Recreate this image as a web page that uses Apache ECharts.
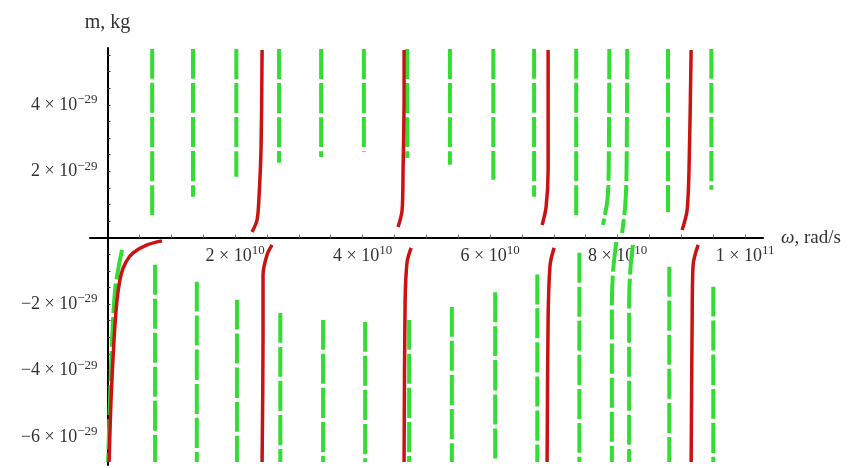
<!DOCTYPE html>
<html>
<head>
<meta charset="utf-8">
<script src="https://cdn.jsdelivr.net/npm/echarts@6/dist/echarts.min.js"></script>
<style>
  html, body { margin: 0; padding: 0; background: #ffffff; }
  #chart { width: 849px; height: 468px; }
</style>
</head>
<body>
<div id="chart"></div>
<script>
// Units: x in 1e10 rad/s, y in 1e-29 kg
const xTicks = [2, 4, 6, 8, 10];
const xTickMantissa = ['2', '4', '6', '8', '1'];
const xTickExponent = ['10', '10', '10', '10', '11'];
const xMinorTicks = [0.5, 1, 1.5, 2, 2.5, 3, 3.5, 4, 4.5, 5, 5.5, 6, 6.5, 7, 7.5, 8, 8.5, 9, 9.5, 10];
const yTicks = [-6, -4, -2, 2, 4];
const yTickMantissa = ['\u22126', '\u22124', '\u22122', '2', '4'];
const yTickExponent = ['\u221229', '\u221229', '\u221229', '\u221229', '\u221229'];
const yMinorTicks = [-6.5, -6, -5.5, -5, -4.5, -4, -3.5, -3, -2.5, -2, -1.5, -1, -0.5,
                     0.5, 1, 1.5, 2, 2.5, 3, 3.5, 4, 4.5, 5, 5.5];

// Green dashed branches above the axis
const greenUpper = [
  [[0.70, 5.68], [0.70, 0.62]],
  [[1.34, 5.68], [1.34, 1.23]],
  [[2.02, 5.68], [2.02, 1.83]],
  [[2.69, 5.68], [2.69, 2.25]],
  [[3.35, 5.68], [3.35, 2.43]],
  [[4.02, 5.68], [4.02, 2.58]],
  [[4.70, 5.68], [4.70, 2.40]],
  [[5.37, 5.68], [5.37, 2.19]],
  [[6.05, 5.68], [6.05, 1.74]],
  [[6.69, 5.68], [6.69, 1.23]],
  [[7.35, 5.68], [7.35, 0.68]],
  [[7.87, 5.68], [7.86, 2.0], [7.84, 1.14], [7.77, 0.38]],
  [[8.15, 5.68], [8.14, 2.0], [8.12, 0.98], [8.07, 0.14]],
  [[8.79, 5.68], [8.79, 0.77]],
  [[9.47, 5.68], [9.47, 1.44]]
];
// Green dashed branches below the axis
const greenLower = [
  [[0.227, -0.37], [0.180, -0.82], [0.118, -1.58], [0.071, -3.08], [0.039, -4.88], [0.008, -6.76]],
  [[0.745, -0.82], [0.745, -6.76]],
  [[1.40, -1.33], [1.40, -6.76]],
  [[2.03, -1.87], [2.03, -6.76]],
  [[2.71, -2.27], [2.71, -6.76]],
  [[3.38, -2.48], [3.38, -6.76]],
  [[4.04, -2.54], [4.04, -6.76]],
  [[4.73, -2.48], [4.73, -6.76]],
  [[5.40, -2.09], [5.40, -6.76]],
  [[6.08, -1.65], [6.08, -6.76]],
  [[6.74, -1.11], [6.74, -6.76]],
  [[7.40, -0.46], [7.40, -6.76]],
  [[7.98, -0.13], [7.93, -0.97], [7.91, -2.0], [7.91, -6.76]],
  [[8.24, -0.22], [8.20, -0.97], [8.18, -2.0], [8.18, -6.76]],
  [[8.81, -0.88], [8.81, -6.76]],
  [[9.50, -1.48], [9.50, -6.76]]
];
// Red solid branches above the axis
const redUpper = [
  [[2.267, 0.17], [2.345, 0.53], [2.376, 1.23], [2.408, 2.73], [2.424, 5.65]],
  [[4.557, 0.32], [4.620, 0.83], [4.635, 2.03], [4.651, 4.24], [4.651, 5.65]],
  [[6.816, 0.38], [6.878, 0.92], [6.910, 2.03], [6.910, 5.65]],
  [[9.012, 0.23], [9.090, 0.83], [9.122, 2.25], [9.153, 5.65]]
];
// Red solid branches below the axis
const redLower = [
  [[0.024, -6.76], [0.055, -4.88], [0.102, -3.08], [0.149, -1.88], [0.212, -1.12],
   [0.290, -0.73], [0.400, -0.46], [0.620, -0.22], [0.855, -0.10]],
  [[2.580, -0.22], [2.502, -0.52], [2.439, -1.12], [2.439, -2.93], [2.424, -6.76]],
  [[4.761, -0.31], [4.698, -0.74], [4.667, -1.93], [4.651, -6.76]],
  [[7.004, -0.31], [6.941, -0.82], [6.910, -2.42], [6.894, -6.76]],
  [[9.263, -0.22], [9.184, -0.82], [9.169, -2.42], [9.153, -6.76]]
];

const FONT = 'Liberation Serif';
const GREEN = '#33dd33';
const RED = '#cc1111';

const W = 849, H = 468;
const GRID = { left: 90, right: 86, top: 48, bottom: 3 };
const X_MIN = -0.275, X_MAX = 10.28;
const Y_MIN = -6.85, Y_MAX = 5.71;
const plotW = W - GRID.left - GRID.right;
const plotH = H - GRID.top - GRID.bottom;
// shift the axes so that they cross at the origin (labels stay with the axis lines)
const yAxisOffset = -((0 - X_MIN) / (X_MAX - X_MIN)) * plotW;
const xAxisOffset = -((0 - Y_MIN) / (Y_MAX - Y_MIN)) * plotH;

const series = [];
greenUpper.concat(greenLower).forEach(function (pts) {
  series.push({
    type: 'line', data: pts, symbol: 'none', smooth: 0.3,
    lineStyle: { color: GREEN, width: 4, type: [30, 4] }, z: 2
  });
});
redUpper.concat(redLower).forEach(function (pts) {
  series.push({
    type: 'line', data: pts, symbol: 'none', smooth: 0.3,
    lineStyle: { color: RED, width: 3.5 }, z: 3
  });
});

const labelRich = {
  b: { fontFamily: FONT, fontSize: 18, color: '#333' },
  s: { fontFamily: FONT, fontSize: 13, color: '#333', padding: [0, 0, 10, 0] }
};

const chart = echarts.init(document.getElementById('chart'), null, { renderer: 'canvas' });
chart.setOption({
  animation: false,
  backgroundColor: '#ffffff',
  grid: { left: GRID.left, right: GRID.right, top: GRID.top, bottom: GRID.bottom, containLabel: false },
  xAxis: {
    type: 'value', min: X_MIN, max: X_MAX, offset: xAxisOffset,
    splitLine: { show: false },
    axisLine: { onZero: false, lineStyle: { color: '#000', width: 2 } },
    axisTick: { customValues: xMinorTicks, inside: true, length: 3, lineStyle: { color: '#777', width: 1 } },
    axisLabel: {
      customValues: xTicks, margin: 7,
      formatter: function (v) {
        const i = xTicks.indexOf(v);
        return '{b|' + xTickMantissa[i] + ' \u00d7 10}{s|' + xTickExponent[i] + '}';
      },
      rich: labelRich
    },
    name: '{i|\u03c9}, rad/s', nameLocation: 'end', nameGap: 18,
    nameTextStyle: {
      fontFamily: FONT, fontSize: 19, color: '#333', align: 'left', verticalAlign: 'middle',
      rich: { i: { fontFamily: FONT, fontSize: 19, fontStyle: 'italic', color: '#333' } }
    }
  },
  yAxis: {
    type: 'value', min: Y_MIN, max: Y_MAX, offset: yAxisOffset,
    splitLine: { show: false },
    axisLine: { onZero: false, lineStyle: { color: '#000', width: 2 } },
    axisTick: { customValues: yMinorTicks, inside: true, length: 3, lineStyle: { color: '#333', width: 1 } },
    axisLabel: {
      customValues: yTicks, margin: 10,
      formatter: function (v) {
        const i = yTicks.indexOf(v);
        return '{b|' + yTickMantissa[i] + ' \u00d7 10}{s|' + yTickExponent[i] + '}';
      },
      rich: labelRich
    },
    name: 'm, kg', nameLocation: 'end', nameGap: 15,
    nameTextStyle: { fontFamily: FONT, fontSize: 20, color: '#333', align: 'center' }
  },
  series: series
});
</script>
</body>
</html>
